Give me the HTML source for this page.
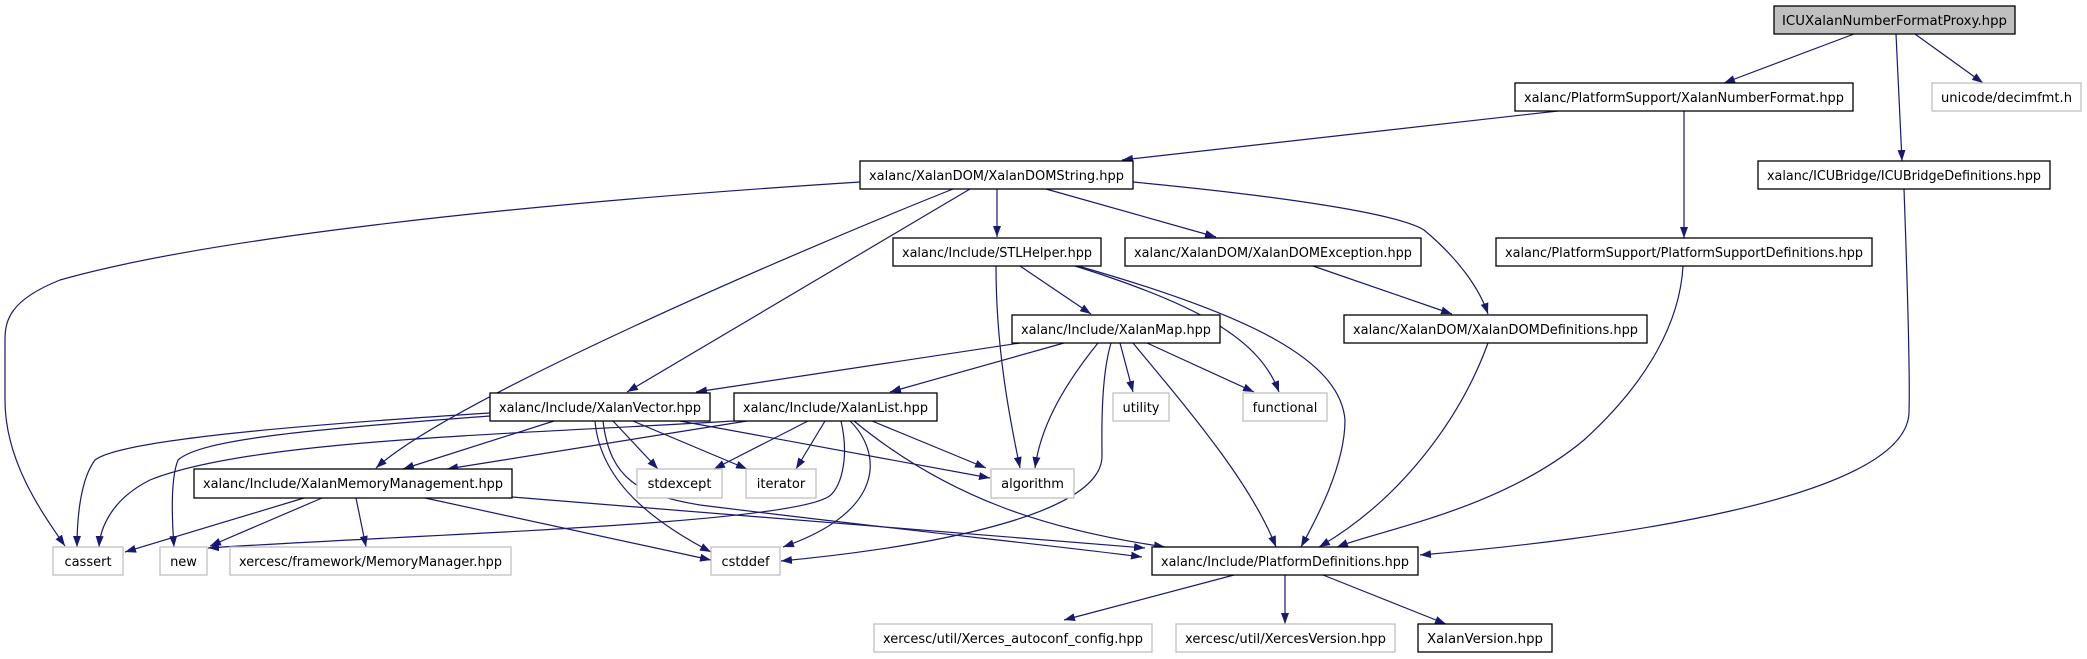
<!DOCTYPE html>
<html><head><meta charset="utf-8"><style>
html,body{margin:0;padding:0;background:#fff;}
svg{display:block;}
text{font-family:"DejaVu Sans","Liberation Sans",sans-serif;font-size:13px;fill:#000;}
</style></head><body>
<svg width="2087" height="659" viewBox="0 0 2087 659" xmlns="http://www.w3.org/2000/svg">
<defs>
<marker id="a" markerUnits="userSpaceOnUse" markerWidth="11" markerHeight="8" refX="11" refY="4" orient="auto">
<path d="M0,0 L11,4 L0,8 z" fill="#191970"/>
</marker>
</defs>
<g fill="none" stroke="#191970" stroke-width="1.2" marker-end="url(#a)">
<path d="M1854,34 L1724,83"/>
<path d="M1896,34 L1902,161"/>
<path d="M1915,34 L1983,83"/>
<path d="M1558,111 L1122,160"/>
<path d="M1684,111 L1684,238"/>
<path d="M1904,189 C1908,300 1910,380 1909,413 C1905,500 1600,540 1420,555"/>
<path d="M860,182 C500,205 200,240 60,280 C10,300 5,320 5,340 L5,400 C5,460 40,510 65,546"/>
<path d="M953,189 C800,250 450,400 376,468"/>
<path d="M970,189 L627,392"/>
<path d="M997,189 L997,237"/>
<path d="M1046,189 L1216,237"/>
<path d="M1133,182 C1300,198 1400,215 1424,230 C1460,260 1480,290 1488,314"/>
<path d="M996,266 C996,350 1010,420 1020,468"/>
<path d="M1020,266 L1091,314"/>
<path d="M1075,266 C1200,305 1260,340 1279,392"/>
<path d="M1078,266 C1250,315 1340,360 1345,420 C1345,470 1310,530 1301,547"/>
<path d="M1020,343 L696,392"/>
<path d="M1064,343 L890,392"/>
<path d="M1111,343 C1100,380 1102,440 1102,457 C1100,520 900,550 781,561"/>
<path d="M1098,343 C1060,390 1040,430 1035,468"/>
<path d="M1120,343 L1133,392"/>
<path d="M1133,343 C1180,400 1250,480 1276,547"/>
<path d="M1147,343 L1254,392"/>
<path d="M1313,266 L1452,314"/>
<path d="M1683,266 C1680,320 1650,380 1584,440 C1500,510 1380,530 1337,547"/>
<path d="M1488,343 C1460,420 1400,500 1319,547"/>
<path d="M808,421 L714,469"/>
<path d="M825,421 L796,469"/>
<path d="M872,421 L986,468"/>
<path d="M850,421 C880,450 890,510 783,547"/>
<path d="M854,421 C950,500 1050,530 1165,547"/>
<path d="M747,421 L447,469"/>
<path d="M734,421 C500,435 250,440 150,480 C110,500 100,530 99,547"/>
<path d="M841,421 C850,460 840,490 828,497 C780,525 400,535 208,548"/>
<path d="M613,421 L658,469"/>
<path d="M633,421 L747,469"/>
<path d="M680,421 L990,478"/>
<path d="M554,421 L403,469"/>
<path d="M490,413 C300,425 120,440 95,460 C80,480 77,520 77,547"/>
<path d="M490,416 C300,430 200,440 178,460 C170,480 172,520 174,547"/>
<path d="M595,421 C600,480 650,520 711,552"/>
<path d="M603,421 C610,480 640,495 700,505 C900,530 1050,545 1142,557"/>
<path d="M425,498 L711,560"/>
<path d="M512,497 L1145,548"/>
<path d="M304,498 L125,552"/>
<path d="M322,498 L210,546"/>
<path d="M356,498 L366,547"/>
<path d="M1234,575 L1064,620"/>
<path d="M1285,575 L1285,624"/>
<path d="M1323,575 L1446,624"/>
</g>
<g stroke-width="1.3">
<rect x="1774" y="6" width="241" height="28" fill="#bfbfbf" stroke="#000"/>
<rect x="1515" y="83" width="338" height="28" fill="#fff" stroke="#000"/>
<rect x="1932" y="83" width="149" height="28" fill="#fff" stroke="#bfbfbf"/>
<rect x="860" y="161" width="273" height="28" fill="#fff" stroke="#000"/>
<rect x="1758" y="161" width="292" height="28" fill="#fff" stroke="#000"/>
<rect x="893" y="238" width="208" height="28" fill="#fff" stroke="#000"/>
<rect x="1125" y="238" width="296" height="28" fill="#fff" stroke="#000"/>
<rect x="1496" y="238" width="376" height="28" fill="#fff" stroke="#000"/>
<rect x="1012" y="315" width="208" height="28" fill="#fff" stroke="#000"/>
<rect x="1344" y="315" width="303" height="28" fill="#fff" stroke="#000"/>
<rect x="490" y="393" width="220" height="28" fill="#fff" stroke="#000"/>
<rect x="734" y="393" width="203" height="28" fill="#fff" stroke="#000"/>
<rect x="1113" y="393" width="56" height="28" fill="#fff" stroke="#bfbfbf"/>
<rect x="1243" y="393" width="84" height="28" fill="#fff" stroke="#bfbfbf"/>
<rect x="194" y="469" width="318" height="29" fill="#fff" stroke="#000"/>
<rect x="637" y="469" width="85" height="29" fill="#fff" stroke="#bfbfbf"/>
<rect x="746" y="469" width="70" height="29" fill="#fff" stroke="#bfbfbf"/>
<rect x="991" y="469" width="83" height="29" fill="#fff" stroke="#bfbfbf"/>
<rect x="53" y="547" width="70" height="28" fill="#fff" stroke="#bfbfbf"/>
<rect x="160" y="547" width="47" height="28" fill="#fff" stroke="#bfbfbf"/>
<rect x="230" y="547" width="281" height="28" fill="#fff" stroke="#bfbfbf"/>
<rect x="711" y="547" width="69" height="28" fill="#fff" stroke="#bfbfbf"/>
<rect x="1152" y="547" width="266" height="28" fill="#fff" stroke="#000"/>
<rect x="874" y="624" width="278" height="28" fill="#fff" stroke="#bfbfbf"/>
<rect x="1176" y="624" width="219" height="28" fill="#fff" stroke="#bfbfbf"/>
<rect x="1418" y="624" width="134" height="28" fill="#fff" stroke="#000"/>
</g>
<g text-anchor="middle" lengthAdjust="spacingAndGlyphs">
<text x="1894.5" y="25" textLength="225" lengthAdjust="spacingAndGlyphs">ICUXalanNumberFormatProxy.hpp</text>
<text x="1684" y="102" textLength="320" lengthAdjust="spacingAndGlyphs">xalanc/PlatformSupport/XalanNumberFormat.hpp</text>
<text x="2006.5" y="102" textLength="131" lengthAdjust="spacingAndGlyphs">unicode/decimfmt.h</text>
<text x="996.5" y="180" textLength="255" lengthAdjust="spacingAndGlyphs">xalanc/XalanDOM/XalanDOMString.hpp</text>
<text x="1904" y="180" textLength="274" lengthAdjust="spacingAndGlyphs">xalanc/ICUBridge/ICUBridgeDefinitions.hpp</text>
<text x="997" y="257" textLength="190" lengthAdjust="spacingAndGlyphs">xalanc/Include/STLHelper.hpp</text>
<text x="1273" y="257" textLength="278" lengthAdjust="spacingAndGlyphs">xalanc/XalanDOM/XalanDOMException.hpp</text>
<text x="1684" y="257" textLength="358" lengthAdjust="spacingAndGlyphs">xalanc/PlatformSupport/PlatformSupportDefinitions.hpp</text>
<text x="1116" y="334" textLength="190" lengthAdjust="spacingAndGlyphs">xalanc/Include/XalanMap.hpp</text>
<text x="1495.5" y="334" textLength="285" lengthAdjust="spacingAndGlyphs">xalanc/XalanDOM/XalanDOMDefinitions.hpp</text>
<text x="600" y="412" textLength="202" lengthAdjust="spacingAndGlyphs">xalanc/Include/XalanVector.hpp</text>
<text x="835.5" y="412" textLength="185" lengthAdjust="spacingAndGlyphs">xalanc/Include/XalanList.hpp</text>
<text x="1141" y="412">utility</text>
<text x="1285" y="412">functional</text>
<text x="353" y="488" textLength="300" lengthAdjust="spacingAndGlyphs">xalanc/Include/XalanMemoryManagement.hpp</text>
<text x="679.5" y="488">stdexcept</text>
<text x="781" y="488">iterator</text>
<text x="1032.5" y="488">algorithm</text>
<text x="88" y="566">cassert</text>
<text x="183.5" y="566">new</text>
<text x="370.5" y="566" textLength="263" lengthAdjust="spacingAndGlyphs">xercesc/framework/MemoryManager.hpp</text>
<text x="745.5" y="566">cstddef</text>
<text x="1285" y="566" textLength="248" lengthAdjust="spacingAndGlyphs">xalanc/Include/PlatformDefinitions.hpp</text>
<text x="1013" y="643" textLength="260" lengthAdjust="spacingAndGlyphs">xercesc/util/Xerces_autoconf_config.hpp</text>
<text x="1285.5" y="643" textLength="201" lengthAdjust="spacingAndGlyphs">xercesc/util/XercesVersion.hpp</text>
<text x="1485" y="643" textLength="116" lengthAdjust="spacingAndGlyphs">XalanVersion.hpp</text>
</g>
</svg>
</body></html>
